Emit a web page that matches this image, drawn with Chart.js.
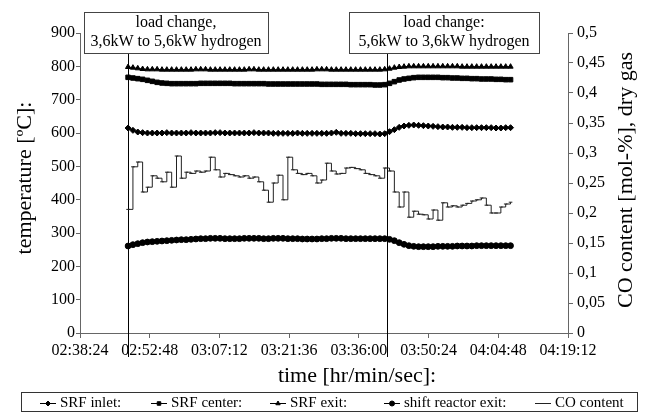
<!DOCTYPE html>
<html>
<head>
<meta charset="utf-8">
<script src="https://cdn.jsdelivr.net/npm/chart.js@4/dist/chart.umd.min.js"></script>
<style>
  html, body { margin: 0; padding: 0; background: #fff; }
  #wrap { width: 647px; height: 412px; }
</style>
</head>
<body>
<div id="wrap"><canvas id="chart" width="647" height="412"></canvas></div>
<script>
// time stamps of the logged points (one per minute)
const times = [
  '02:48:20','02:49:20','02:50:20','02:51:20','02:52:20','02:53:20','02:54:20','02:55:20','02:56:20','02:57:20',
  '02:58:20','02:59:20','03:00:20','03:01:20','03:02:20','03:03:20','03:04:20','03:05:20','03:06:20','03:07:20',
  '03:08:20','03:09:20','03:10:20','03:11:20','03:12:20','03:13:20','03:14:20','03:15:20','03:16:20','03:17:20',
  '03:18:20','03:19:20','03:20:20','03:21:20','03:22:20','03:23:20','03:24:20','03:25:20','03:26:20','03:27:20',
  '03:28:20','03:29:20','03:30:20','03:31:20','03:32:20','03:33:20','03:34:20','03:35:20','03:36:20','03:37:20',
  '03:38:20','03:39:20','03:40:20','03:41:20','03:42:20','03:43:20','03:44:20','03:45:20','03:46:20','03:47:20',
  '03:48:20','03:49:20','03:50:20','03:51:20','03:52:20','03:53:20','03:54:20','03:55:20','03:56:20','03:57:20',
  '03:58:20','03:59:20','04:00:20','04:01:20','04:02:20','04:03:20','04:04:20','04:05:20','04:06:20','04:07:20'
];

const srfInlet = [
  615,608,603,601,600,600,600,600,601,600, 600,600,600,601,600,600,600,600,601,601,
  600,600,600,600,600,600,601,600,600,600, 599,599,599,599,599,600,599,599,599,599,
  599,599,600,602,599,599,599,598,598,598, 598,598,597,598,604,610,617,621,623,624,
  623,622,621,620,619,618,618,617,617,617, 616,616,616,616,616,616,615,615,616,616
];
const srfCenter = [
  767,765,763,761,758,755,752,750,749,748, 748,748,748,748,748,749,749,749,749,749,
  749,749,748,748,748,748,748,748,748,747, 747,747,747,747,747,747,747,747,747,747,
  746,746,746,746,746,746,745,745,745,745, 745,744,744,745,749,754,759,762,764,766,
  767,767,767,767,767,766,766,765,765,764, 764,763,763,762,762,762,761,761,760,760
];
const srfExit = [
  798,796,794,792,791,791,791,790,790,790, 790,790,790,790,791,791,791,790,790,790,
  790,790,790,790,790,791,791,790,790,790, 790,790,790,790,790,790,790,790,790,791,
  791,791,790,790,790,790,790,790,790,790, 790,790,790,791,793,796,798,799,800,800,
  800,800,800,800,800,800,800,800,800,799, 799,799,799,799,799,799,799,799,799,799
];
const shiftExit = [
  261,265,268,271,273,274,275,276,277,278, 279,280,280,281,282,283,283,284,284,284,
  283,283,283,283,284,284,284,284,283,283, 284,284,284,283,283,283,282,282,282,282,
  283,283,284,284,284,283,283,283,283,283, 283,283,283,283,281,277,271,266,262,260,
  259,259,259,259,260,260,260,260,261,261, 261,261,262,262,262,262,262,262,262,262
];
const coContent = [
  0.206,0.277,0.285,0.235,0.243,0.262,0.258,0.252,0.268,0.243,
  0.295,0.258,0.268,0.266,0.270,0.268,0.270,0.293,0.272,0.260,
  0.266,0.264,0.262,0.260,0.262,0.258,0.260,0.252,0.238,0.218,
  0.250,0.263,0.222,0.293,0.272,0.266,0.264,0.266,0.262,0.250,
  0.255,0.283,0.270,0.265,0.266,0.275,0.276,0.274,0.272,0.266,
  0.264,0.262,0.258,0.275,0.270,0.235,0.210,0.235,0.193,0.203,
  0.198,0.197,0.190,0.205,0.188,0.217,0.210,0.212,0.210,0.213,
  0.216,0.220,0.222,0.225,0.213,0.200,0.200,0.210,0.215,0.218
];

// load change events
const loadChangeTimes = ['02:48:20', '03:41:50'];
const loadChangeText = [
  ['load change,', '3,6kW to 5,6kW hydrogen'],
  ['load change:', '5,6kW to 3,6kW hydrogen']
];

const xTickStart = '02:38:24';
const xTickEnd = '04:19:12';
const xTickStep = '00:14:24';

const FONT = '"Liberation Serif", "DejaVu Serif", serif';

function toSec(s) {
  const p = s.split(':').map(Number);
  return p[0] * 3600 + p[1] * 60 + p[2];
}
function fmtTime(v) {
  v = Math.round(v);
  const h = Math.floor(v / 3600), m = Math.floor((v % 3600) / 60), s = v % 60;
  const pad = n => String(n).padStart(2, '0');
  return pad(h) + ':' + pad(m) + ':' + pad(s);
}
function pts(arr) {
  return arr.map((v, i) => ({ x: toSec(times[i]), y: v }));
}

// extra text: axis titles, annotation boxes, legend
const decorPlugin = {
  id: 'decor',
  beforeDatasetsDraw(chart) {
    const c = chart.ctx, xs = chart.scales.x;
    c.save();
    c.strokeStyle = '#000';
    c.lineWidth = 1;
    loadChangeTimes.forEach(t => {
      const x = Math.round(xs.getPixelForValue(toSec(t))) + 0.5;
      c.beginPath();
      c.moveTo(x, 53);
      c.lineTo(x, 357);
      c.stroke();
    });
    c.restore();
  },
  afterDraw(chart) {
    const c = chart.ctx, xs = chart.scales.x;
    c.save();
    c.fillStyle = '#000';

    // annotation boxes
    const offs = [-44, -38], widths = [184, 190];
    loadChangeTimes.forEach((t, k) => {
      const lx = Math.round(xs.getPixelForValue(toSec(t)));
      const bx = lx + offs[k], bw = widths[k];
      c.fillStyle = '#fff';
      c.fillRect(bx, 12, bw, 41);
      c.strokeStyle = '#444';
      c.lineWidth = 1;
      c.strokeRect(bx + 0.5, 12.5, bw, 41);
      c.fillStyle = '#000';
      c.font = '16px ' + FONT;
      c.textAlign = 'center';
      c.textBaseline = 'middle';
      c.fillText(loadChangeText[k][0], bx + bw / 2, 23);
      c.fillText(loadChangeText[k][1], bx + bw / 2, 42);
    });

    // axis titles
    c.font = '22px ' + FONT;
    c.textAlign = 'center';
    c.textBaseline = 'middle';
    c.fillText('time [hr/min/sec]:', 357, 376);
    c.save();
    c.translate(25, 178);
    c.rotate(-Math.PI / 2);
    c.fillText('temperature [ºC]:', 0, 0);
    c.restore();
    c.save();
    c.translate(626, 180);
    c.rotate(-Math.PI / 2);
    c.fillText('CO content [mol-%], dry gas', 0, 0);
    c.restore();

    // legend
    c.strokeStyle = '#333';
    c.lineWidth = 1;
    c.strokeRect(21.5, 392.5, 616, 19);
    const mx = [40, 151, 270, 384, 535];
    const ly = 403;
    c.font = '15px ' + FONT;
    c.textAlign = 'left';
    chart.data.datasets.forEach((ds, i) => {
      c.strokeStyle = ds.borderColor;
      c.beginPath();
      c.moveTo(mx[i], ly + 0.5);
      c.lineTo(mx[i] + 16, ly + 0.5);
      c.stroke();
      c.fillStyle = ds.pointBackgroundColor;
      c.strokeStyle = ds.borderColor;
      Chart.helpers.drawPoint(c, { pointStyle: ds.pointStyle, radius: ds.legendRadius, borderWidth: 1, rotation: 0 }, mx[i] + 8, ly + 0.5);
      c.fillStyle = '#000';
      c.fillText(ds.label, mx[i] + 20, ly);
    });
    c.restore();
  }
};

const ctx = document.getElementById('chart').getContext('2d');
new Chart(ctx, {
  type: 'line',
  data: {
    datasets: [
      { label: 'SRF inlet:', data: pts(srfInlet), yAxisID: 'y', borderColor: '#000', borderWidth: 1,
        pointStyle: 'rectRot', pointRadius: 3, pointBackgroundColor: '#000', pointBorderColor: '#000', legendRadius: 2.5 },
      { label: 'SRF center:', data: pts(srfCenter), yAxisID: 'y', borderColor: '#000', borderWidth: 1,
        pointStyle: 'rect', pointRadius: 3.2, pointBackgroundColor: '#000', pointBorderColor: '#000', legendRadius: 2.5 },
      { label: 'SRF exit:', data: pts(srfExit), yAxisID: 'y', borderColor: '#000', borderWidth: 1,
        pointStyle: 'triangle', pointRadius: 3, pointBackgroundColor: '#000', pointBorderColor: '#000', legendRadius: 2.5 },
      { label: 'shift reactor exit:', data: pts(shiftExit), yAxisID: 'y', borderColor: '#000', borderWidth: 1,
        pointStyle: 'circle', pointRadius: 2.9, pointBackgroundColor: '#000', pointBorderColor: '#000', legendRadius: 2.5 },
      { label: 'CO content', data: pts(coContent), yAxisID: 'y1', borderColor: '#222', borderWidth: 1, stepped: true,
        pointStyle: 'line', pointRadius: 1.8, pointBackgroundColor: '#222', pointBorderColor: '#222', legendRadius: 2 }
    ]
  },
  options: {
    responsive: false,
    animation: false,
    layout: { padding: { top: 33, bottom: 0, left: 0, right: 0 } },
    plugins: { legend: { display: false }, tooltip: { enabled: false } },
    elements: { line: { tension: 0 } },
    scales: {
      x: {
        type: 'linear',
        min: toSec(xTickStart),
        max: toSec(xTickEnd),
        afterFit: s => { s.height = 79; },
        afterBuildTicks: s => {
          const t = [];
          for (let v = toSec(xTickStart); v <= toSec(xTickEnd); v += toSec(xTickStep)) t.push({ value: v });
          s.ticks = t;
        },
        ticks: { callback: v => fmtTime(v), font: { family: FONT, size: 16 }, color: '#000',
                 maxRotation: 0, autoSkip: false, padding: 3 },
        grid: { drawOnChartArea: false, drawTicks: true, tickLength: 5, color: '#666' },
        border: { display: true, color: '#666', width: 1 }
      },
      y: {
        position: 'left',
        min: 0, max: 900,
        afterFit: s => { s.width = 80; },
        ticks: { stepSize: 100, font: { family: FONT, size: 16 }, color: '#000', padding: 1 },
        grid: { drawOnChartArea: false, drawTicks: true, tickLength: 4, color: '#666' },
        border: { display: true, color: '#666', width: 1 }
      },
      y1: {
        position: 'right',
        min: 0, max: 0.5,
        afterFit: s => { s.width = 79; },
        ticks: { stepSize: 0.05, font: { family: FONT, size: 16 }, color: '#000', padding: 4,
                 callback: v => String(+v.toFixed(2)).replace('.', ',') },
        grid: { drawOnChartArea: false, drawTicks: true, tickLength: 5, color: '#666' },
        border: { display: true, color: '#666', width: 1 }
      }
    }
  },
  plugins: [decorPlugin]
});
</script>
</body>
</html>
